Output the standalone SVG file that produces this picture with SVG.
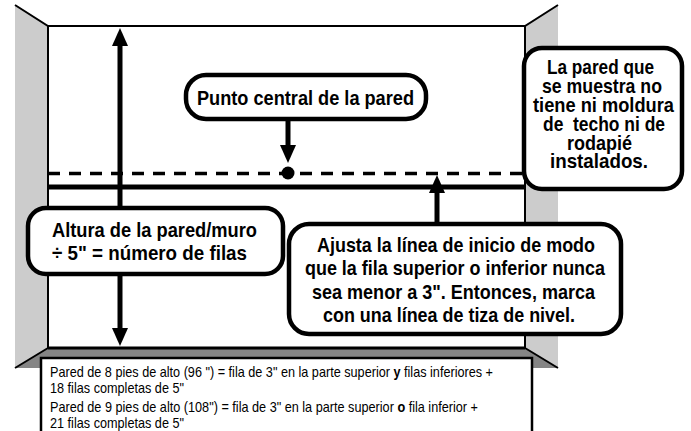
<svg xmlns="http://www.w3.org/2000/svg" width="691" height="431" viewBox="0 0 691 431">
<style>
.edge{stroke:#000;fill:none;stroke-width:2}
.box{fill:#fff;stroke:#000;stroke-width:4.5}
.t{font-family:"Liberation Sans",Arial,sans-serif;font-weight:bold;font-size:21px;fill:#000}
.s{font-family:"Liberation Sans",Arial,sans-serif;font-size:14.5px;fill:#000}
.arr{stroke:#000;stroke-width:5;fill:none}
</style>
<defs>
<marker id="ah" markerUnits="userSpaceOnUse" markerWidth="18" markerHeight="18" refX="10" refY="8" orient="auto" viewBox="0 0 18 16">
<path d="M0,0 L18,8 L0,16 Z" fill="#000"/>
</marker>
</defs>
<rect width="691" height="431" fill="#fff"/>
<g id="room">
<polygon points="15,5 48,26 48,348 15,368" fill="#cccccc"/>
<polygon points="525,26 558,5 558,368 525,348" fill="#cccccc"/>
<polygon points="48,348 525,348 558,368 15,368" fill="#858585"/>
<path class="edge" d="M15,5 L48,26 L525,26 L558,5 M48,26 L48,348 M525,26 L525,348 M48,348 L15,368 M525,348 L558,368"/>
<line x1="48" y1="348" x2="525" y2="348" stroke="#000" stroke-width="3"/>
<line x1="48" y1="173.5" x2="525" y2="173.5" stroke="#000" stroke-width="3.5" stroke-dasharray="12 9"/>
<line x1="48" y1="187" x2="525" y2="187" stroke="#000" stroke-width="5"/>
<circle cx="288" cy="173" r="6.5" fill="#000"/>
</g>
<g id="connectors">
<line class="arr" x1="120" y1="207" x2="120" y2="36" marker-end="url(#ah)"/>
<line class="arr" x1="120" y1="275" x2="120" y2="338" marker-end="url(#ah)"/>
<line class="arr" x1="288" y1="120" x2="288" y2="155" marker-end="url(#ah)"/>
<line class="arr" x1="437" y1="223" x2="437" y2="183" marker-end="url(#ah)"/>
</g>
<g id="punto">
<rect class="box" x="186" y="75" width="240" height="44" rx="20"/>
<text class="t" x="197" y="105" textLength="217" lengthAdjust="spacingAndGlyphs">Punto central de la pared</text>
</g>
<g id="nota">
<rect class="box" x="524" y="48" width="158" height="141" rx="18"/>
<text class="t" x="547" y="74" textLength="107" lengthAdjust="spacingAndGlyphs">La pared que</text>
<text class="t" x="542" y="93" textLength="120" lengthAdjust="spacingAndGlyphs">se muestra no</text>
<text class="t" x="533" y="112" textLength="141" lengthAdjust="spacingAndGlyphs">tiene ni moldura</text>
<text class="t" x="543" y="131" textLength="122" lengthAdjust="spacingAndGlyphs" style="white-space:pre">de  techo ni de</text>
<text class="t" x="567" y="150" textLength="65" lengthAdjust="spacingAndGlyphs">rodapié</text>
<text class="t" x="550" y="168" textLength="98" lengthAdjust="spacingAndGlyphs">instalados.</text>
</g>
<g id="altura">
<rect class="box" x="28" y="208" width="255" height="66" rx="18"/>
<text class="t" x="52" y="237" textLength="205" lengthAdjust="spacingAndGlyphs">Altura de la pared/muro</text>
<text class="t" x="52" y="260" textLength="195" lengthAdjust="spacingAndGlyphs">÷ 5" = número de filas</text>
</g>
<g id="ajusta">
<rect class="box" x="289" y="224" width="332" height="110" rx="20"/>
<text class="t" x="317" y="252" textLength="278" lengthAdjust="spacingAndGlyphs">Ajusta la línea de inicio de modo</text>
<text class="t" x="305" y="275" textLength="300" lengthAdjust="spacingAndGlyphs">que la fila superior o inferior nunca</text>
<text class="t" x="312" y="299" textLength="283" lengthAdjust="spacingAndGlyphs">sea menor a 3". Entonces, marca</text>
<text class="t" x="323" y="322" textLength="252" lengthAdjust="spacingAndGlyphs">con una línea de tiza de nivel.</text>
</g>
<g id="tabla">
<rect x="41" y="358" width="491" height="80" fill="#fff" stroke="#000" stroke-width="2.5"/>
<text class="s" x="50" y="377" textLength="443" lengthAdjust="spacingAndGlyphs">Pared de 8 pies de alto (96 ") = fila de 3" en la parte superior <tspan font-weight="bold">y</tspan> filas inferiores +</text>
<text class="s" x="50" y="393" textLength="134" lengthAdjust="spacingAndGlyphs">18 filas completas de 5"</text>
<text class="s" x="50" y="412" textLength="428" lengthAdjust="spacingAndGlyphs">Pared de 9 pies de alto (108") = fila de 3" en la parte superior <tspan font-weight="bold">o</tspan> fila inferior +</text>
<text class="s" x="50" y="428" textLength="134" lengthAdjust="spacingAndGlyphs">21 filas completas de 5"</text>
</g>
</svg>
